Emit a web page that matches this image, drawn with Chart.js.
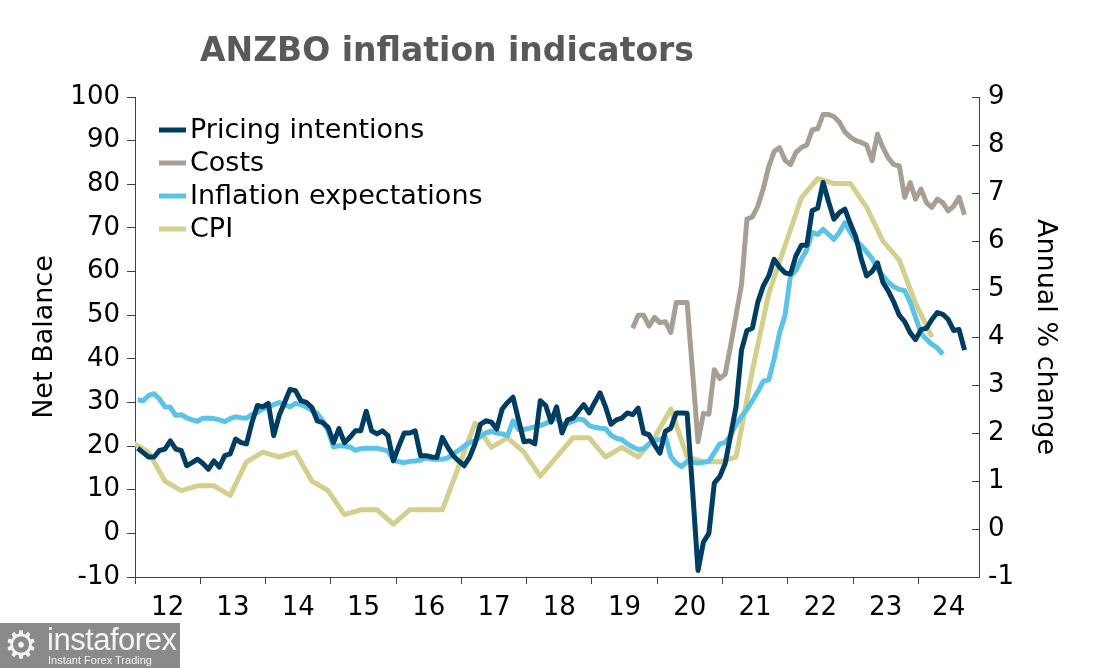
<!DOCTYPE html>
<html><head><meta charset="utf-8">
<script src="https://cdn.jsdelivr.net/npm/chart.js@4.4.1/dist/chart.umd.min.js"></script>
<style>
html,body{margin:0;padding:0;background:#fff;}
#wrap{position:relative;width:1108px;height:668px;overflow:hidden;}
canvas{display:block;}
#logo{position:absolute;left:0;top:623px;width:180px;height:45px;background:#8a8a8a;color:#f4f4f4;font-family:"Liberation Sans",Arial,sans-serif;}
#logo .gear{position:absolute;left:4px;top:0px;font-size:38px;line-height:44px;font-family:"DejaVu Sans";}
#logo .name{position:absolute;left:47px;top:1px;font-size:31px;line-height:32px;letter-spacing:-0.5px;}
#logo .tag{position:absolute;left:48px;top:31px;font-size:11px;line-height:12px;}
</style></head><body>
<div id="wrap"><canvas id="c" width="1108" height="668"></canvas>
<div id="logo"><span class="gear">⚙</span><span class="name">instaforex</span><span class="tag">Instant Forex Trading</span></div></div>
<script>
// Monthly series, first value = Jan 2012
const pricingIntentions = [
 19.5,18.5,17.5,17.5,19,19.3,21.2,19.3,19,15.5,16.2,17,
 16,14.7,16.6,15.2,17.8,18.2,21.6,20.8,20.5,25.4,29.3,29,
 29.8,22.4,27,30,33,32.7,30.4,30,28.9,25.8,25.4,24.3,
 20.8,24,20.8,22,23.5,23.5,28,23.5,22.8,23.5,22.4,16.6,
 20,23,23,23.5,17.8,17.8,17.5,17.4,22,19.7,17.8,16.6,
 15.5,17.4,20.5,25,25.8,25.5,23.9,28.5,30,31.2,26,21,
 21.2,20.5,30.4,29.3,25.5,29,23,26,26.4,28,29.5,27.6,
 30,32.2,29,25,26,26.4,27.6,27.2,28.7,23,22.6,20.3,
 18.4,23.4,24.1,27.6,27.6,27.5,10,-8.5,-2,0,11.5,13,
 16,22.5,29,42,46.5,47,53,56.7,59,62.8,61,59.7,
 59.4,63.6,66,66,74,74.5,80.4,76,72,73.5,74.3,71,
 68,63,59,60,62,57.5,55.5,53,50,48.5,46,44.4,
 46.7,47,49,50.6,50.2,49,46.5,46.7,42
];
// Monthly series, first value = Aug 2019
const costs = [
 47,50,50,47.5,49.5,
 48.3,48.5,46,52.9,52.9,52.9,37,21,27.5,27.3,37.5,35.5,
 36.5,43,50,57,72,72.5,75,79,84,87.5,88.4,85.5,
 84.5,87.3,88.4,89,92.5,92.7,96,96,95.5,94.2,92,90.8,
 90,89.6,89,85.4,91.5,88.4,86,84.5,84.2,77,80.4,76.6,
 78.9,75.8,74.7,76.6,75.8,73.9,75,77,73
];
// Monthly series, first value = Jan 2012
const inflationExpectations = [
 30.6,30.4,31.6,32,30.8,29,28.9,27,27.2,26.5,26,25.7,
 26.4,26.4,26.3,26,25.6,26.3,26.7,26.5,26.4,27.2,27.7,28.5,
 29,29.5,30,29.5,29,29.8,29.5,29,28.2,27.5,25.8,23.5,
 19.8,20.1,20,19.8,19,19.4,19.5,19.5,19.5,19.2,18.9,16.8,
 16.4,16.2,16.5,16.6,16.8,17.3,17,17,17,17.3,18.2,19,
 20,20.8,21.2,22.2,23,23.4,23,22.8,22.4,25.8,23.8,23.8,
 24.1,24.4,24.7,25.2,25.8,26.4,25,25.2,25.7,26.2,26,24.7,
 24.3,24.1,24,22.5,21.8,21.5,20.5,19.8,19.2,19.4,20.5,21.3,
 21.5,22.2,17.6,16.1,15.3,16.5,16.3,16.1,16.3,16.5,18.5,20.5,
 20.8,22.5,25,26.8,28.4,30.4,32.5,34.9,35.2,40,46,50,
 59,60.3,62.8,65,69,68.5,69.7,68.5,67.4,69,71.2,69,
 67,66,64.5,63,60.5,59,57.5,56.5,55.9,55.6,53,49.5,
 45.8,44.5,43.3,42.5,41
];
// Quarterly annual % change, first value = Q4 2011
const cpi = [
 1.8,
 1.6,1.0,0.8,0.9,
 0.9,0.7,1.4,1.6,
 1.5,1.6,1.0,0.8,
 0.3,0.4,0.4,0.1,
 0.4,0.4,0.4,1.3,
 2.2,1.7,1.9,1.6,
 1.1,1.5,1.9,1.9,
 1.5,1.7,1.5,1.9,
 2.5,1.5,1.4,1.4,
 1.5,3.3,4.9,5.9,
 6.9,7.3,7.2,7.2,
 6.7,6.0,5.6,4.7,
 4.0
];
const yearLabels = ['12','13','14','15','16','17','18','19','20','21','22','23','24'];
const seriesNames = ['Pricing intentions','Costs','Inflation expectations','CPI'];
const firstYear = 2012;
const costsStartMonth = 91;   // Aug 2019
const cpiStartMonth = -1;     // Dec 2011

const colors = ['#003d62','#a89f94','#5bc2e8','#d3cf8c'];
const xMax = 2024.93;
const FONT = '"DejaVu Sans", Verdana, sans-serif';

function monthX(m){ return firstYear + (m + 0.5) / 12; }
function toPoints(arr, start, step){ return arr.map((v,i)=>({x: monthX(start + i*step), y: v})); }

const labelTicks = yearLabels.map((l,i)=>{
  const y0 = firstYear + i;
  const y1 = Math.min(y0 + 1, xMax);
  return {value: (y0 + y1) / 2, label: l};
});

const overlay = {
  id: 'overlay',
  afterDraw(chart){
    const ctx = chart.ctx;
    const ca = chart.chartArea;
    ctx.save();
    // title
    ctx.font = 'bold 33px ' + FONT;
    ctx.fillStyle = '#595959';
    ctx.textAlign = 'center';
    ctx.textBaseline = 'middle';
    ctx.fillText('ANZBO inflation indicators', 447, 52);
    // legend
    ctx.font = '27px ' + FONT;
    ctx.textAlign = 'left';
    chart.data.datasets.forEach((ds, i) => {
      const y = 130 + i * 33;
      ctx.strokeStyle = ds.borderColor;
      ctx.lineWidth = 5;
      ctx.beginPath(); ctx.moveTo(159, y); ctx.lineTo(186, y); ctx.stroke();
      ctx.fillStyle = '#000';
      ctx.fillText(ds.label, 190, y + 1);
    });
    // inward ticks on the right axis
    const s = chart.scales.y1;
    ctx.strokeStyle = '#404040';
    ctx.lineWidth = 1;
    s.ticks.forEach(t => {
      const y = Math.round(s.getPixelForValue(t.value)) + 0.5;
      ctx.beginPath(); ctx.moveTo(ca.right - 7, y); ctx.lineTo(ca.right, y); ctx.stroke();
    });
    ctx.restore();
  }
};

const lineStyle = {borderWidth: 5, pointRadius: 0, tension: 0, borderJoinStyle: 'round', fill: false};

new Chart(document.getElementById('c'), {
  type: 'line',
  data: {
    datasets: [
      {label: seriesNames[0], data: toPoints(pricingIntentions, 0, 1), borderColor: colors[0], yAxisID: 'y', ...lineStyle},
      {label: seriesNames[1], data: toPoints(costs, costsStartMonth, 1), borderColor: colors[1], yAxisID: 'y', ...lineStyle},
      {label: seriesNames[2], data: toPoints(inflationExpectations, 0, 1), borderColor: colors[2], yAxisID: 'y', ...lineStyle},
      {label: seriesNames[3], data: toPoints(cpi, cpiStartMonth, 3), borderColor: colors[3], yAxisID: 'y1', ...lineStyle,
       clip: {left: 0, top: 5, right: 5, bottom: 5}}
    ]
  },
  options: {
    responsive: false,
    animation: false,
    devicePixelRatio: 1,
    layout: {padding: {top: 97, left: 0, right: 0, bottom: 0}},
    plugins: {legend: {display: false}, title: {display: false}, tooltip: {enabled: false}},
    scales: {
      x: {
        type: 'linear', min: firstYear, max: xMax,
        afterBuildTicks(scale){
          const t = [];
          for (let y = firstYear; y <= 2024; y++) t.push({value: y});
          labelTicks.forEach(l => t.push({value: l.value}));
          t.sort((a,b)=>a.value-b.value);
          scale.ticks = t;
        },
        afterFit(scale){ scale.height = 91; },
        ticks: {
          autoSkip: false, maxRotation: 0, minRotation: 0, padding: 9,
          color: '#000', font: {family: FONT, size: 26},
          callback(value){
            const f = labelTicks.find(l => Math.abs(l.value - value) < 1e-6);
            return f ? f.label : '';
          }
        },
        grid: {
          drawOnChartArea: false, tickLength: 7, lineWidth: 1,
          color: ctx => (ctx.tick && Number.isInteger(ctx.tick.value)) ? '#404040' : 'rgba(0,0,0,0)'
        },
        border: {display: true, color: '#404040', width: 1}
      },
      y: {
        position: 'left', min: -10, max: 100,
        afterFit(scale){ scale.width = 135; },
        ticks: {stepSize: 10, padding: 7, color: '#000', font: {family: FONT, size: 26}},
        grid: {drawOnChartArea: false, tickLength: 8, color: '#404040'},
        border: {display: true, color: '#404040', width: 1},
        title: {display: true, text: 'Net Balance', color: '#000', font: {family: FONT, size: 27}, padding: {top: 29, bottom: 0}}
      },
      y1: {
        position: 'right', min: -1, max: 9,
        afterFit(scale){ scale.width = 129; },
        ticks: {stepSize: 1, padding: 9, color: '#000', font: {family: FONT, size: 26}},
        grid: {drawOnChartArea: false, drawTicks: false},
        border: {display: true, color: '#404040', width: 1},
        title: {display: true, text: 'Annual % change', color: '#000', font: {family: FONT, size: 27}, padding: {top: 47, bottom: 0}}
      }
    }
  },
  plugins: [overlay]
});
</script>
</body></html>
